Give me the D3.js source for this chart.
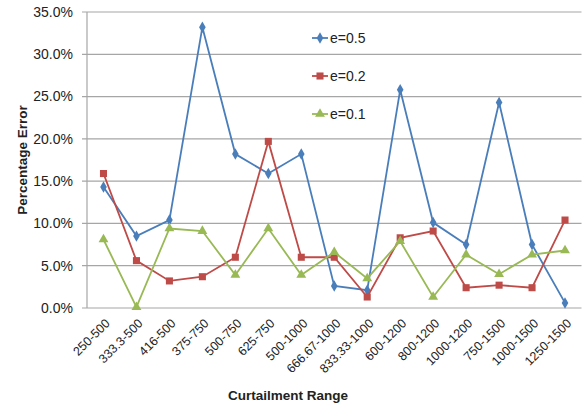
<!DOCTYPE html>
<html><head><meta charset="utf-8">
<script src="https://cdn.jsdelivr.net/npm/d3@7"></script>
<style>body{margin:0;background:#fff}svg{display:block}</style>
</head><body><svg id="c" width="586" height="406"></svg>
<script>
const categories = ["250-500","333.3-500","416-500","375-750","500-750","625-750","500-1000","666.67-1000","833.33-1000","600-1200","800-1200","1000-1200","750-1500","1000-1500","1250-1500"];
const e05 = [14.3,8.5,10.4,33.2,18.2,15.9,18.2,2.6,2.1,25.8,10.1,7.5,24.3,7.5,0.6];
const e02 = [15.9,5.6,3.2,3.7,6.0,19.7,6.0,6.0,1.3,8.3,9.1,2.4,2.7,2.4,10.4];
const e01 = [8.1,0.1,9.4,9.1,3.9,9.4,3.9,6.6,3.5,7.9,1.3,6.3,4.0,6.3,6.8];
const yTicks = [0,5,10,15,20,25,30,35];
const seriesNames = ["e=0.5","e=0.2","e=0.1"];

const font = "Liberation Sans, Arial, sans-serif";
const svg = d3.select("#c");
const L = 87, R = 581.5, T = 12, B = 308;
const x = d3.scaleBand().domain(categories).range([L, R]);
const y = d3.scaleLinear().domain([0, 35]).range([B, T]);

// gridlines
svg.append("g").selectAll("line").data(yTicks).join("line")
  .attr("x1", L - 5).attr("x2", R).attr("y1", d => y(d)).attr("y2", d => y(d))
  .attr("stroke", "#a6a6a6").attr("stroke-width", 1.2);
// y axis line
svg.append("line").attr("x1", L).attr("x2", L).attr("y1", T).attr("y2", B)
  .attr("stroke", "#a6a6a6").attr("stroke-width", 1.2);

// y tick labels
svg.append("g").selectAll("text").data(yTicks).join("text")
  .attr("x", L - 14).attr("y", d => y(d)).attr("dy", "0.35em")
  .attr("text-anchor", "end").attr("font-family", font).attr("font-size", 14).attr("fill", "#222")
  .text(d => d.toFixed(1) + "%");

// x tick labels
svg.append("g").selectAll("text").data(categories).join("text")
  .attr("transform", d => `translate(${x(d) + x.bandwidth()/2 + 4},${B + 13}) rotate(-45)`)
  .attr("text-anchor", "end").attr("font-family", font).attr("font-size", 12.5).attr("fill", "#222")
  .attr("dy", "0.35em")
  .text(d => d);

// axis titles
svg.append("text").attr("x", 288).attr("y", 400).attr("text-anchor", "middle")
  .attr("font-family", font).attr("font-weight", "bold").attr("font-size", 13.5).attr("fill", "#222")
  .text("Curtailment Range");
svg.append("text").attr("transform", `translate(27,160) rotate(-90)`).attr("text-anchor", "middle")
  .attr("font-family", font).attr("font-weight", "bold").attr("font-size", 13.5).attr("fill", "#222")
  .text("Percentage Error");

const colors = ["#4a7ebb", "#be4b48", "#98b954"];
const datas = [e05, e02, e01];
const symbols = [d3.symbolDiamond, d3.symbolSquare, d3.symbolTriangle];
const sizes = [38, 50, 42];
const cx = i => x(categories[i]) + x.bandwidth()/2;
const line = d3.line().x((d, i) => cx(i)).y(d => y(d));

datas.forEach((data, k) => {
  svg.append("path").datum(data).attr("d", line).attr("fill", "none")
    .attr("stroke", colors[k]).attr("stroke-width", 1.8);
  svg.append("g").selectAll("path").data(data).join("path")
    .attr("transform", (d, i) => `translate(${cx(i)},${y(d)})`)
    .attr("d", d3.symbol().type(symbols[k]).size(sizes[k])).attr("fill", colors[k]);
});

// legend
const lg = svg.append("g");
seriesNames.forEach((n, k) => {
  const ly = 38 + k * 38;
  lg.append("line").attr("x1", 312).attr("x2", 328).attr("y1", ly).attr("y2", ly)
    .attr("stroke", colors[k]).attr("stroke-width", 1.8);
  lg.append("path").attr("transform", `translate(320,${ly})`)
    .attr("d", d3.symbol().type(symbols[k]).size(sizes[k])).attr("fill", colors[k]);
  lg.append("text").attr("x", 330).attr("y", ly).attr("dy", "0.35em")
    .attr("font-family", font).attr("font-size", 14).attr("fill", "#222").text(n);
});
</script></body></html>
